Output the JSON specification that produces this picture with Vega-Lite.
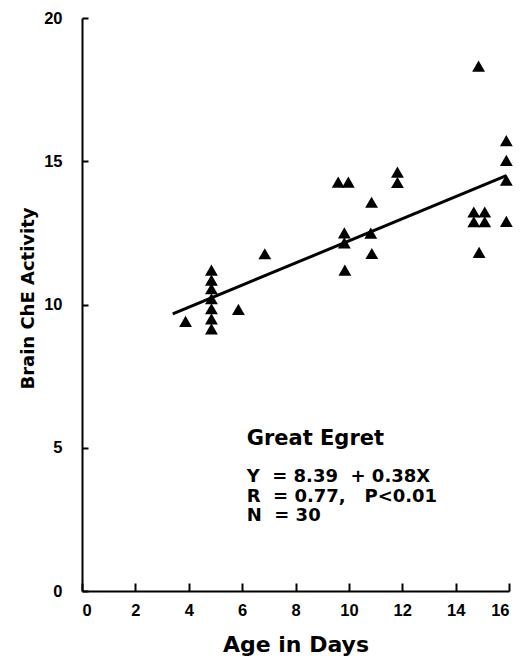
{
  "$schema": "https://vega.github.io/schema/vega-lite/v6.json",
  "width": 427,
  "height": 573,
  "autosize": "none",
  "padding": {"left": 82, "top": 18, "right": 15, "bottom": 73},
  "background": "white",
  "config": {
    "view": {"stroke": null},
    "axis": {
      "grid": false,
      "domainColor": "black",
      "domainWidth": 2,
      "tickColor": "black",
      "tickWidth": 2,
      "labelColor": "black",
      "labelFont": "Liberation Sans",
      "labelFontWeight": 700,
      "labelFontSize": 16.5,
      "titleColor": "black",
      "titleFont": "DejaVu Sans",
      "titleFontWeight": "bold"
    }
  },
  "datasets": {
    "egret": [
      {"age": 3.88, "che": 9.41},
      {"age": 4.85, "che": 11.2},
      {"age": 4.85, "che": 10.85},
      {"age": 4.85, "che": 10.55},
      {"age": 4.85, "che": 10.2},
      {"age": 4.85, "che": 9.85},
      {"age": 4.85, "che": 9.5},
      {"age": 4.85, "che": 9.15},
      {"age": 5.86, "che": 9.83},
      {"age": 6.85, "che": 11.77},
      {"age": 9.6, "che": 14.27},
      {"age": 9.98, "che": 14.27},
      {"age": 9.83, "che": 12.5},
      {"age": 9.83, "che": 12.15},
      {"age": 9.85, "che": 11.2},
      {"age": 10.85, "che": 13.57},
      {"age": 10.82, "che": 12.49},
      {"age": 10.86, "che": 11.78},
      {"age": 11.82, "che": 14.62},
      {"age": 11.82, "che": 14.26},
      {"age": 14.86, "che": 18.32},
      {"age": 14.68, "che": 13.23},
      {"age": 15.09, "che": 13.23},
      {"age": 14.68, "che": 12.89},
      {"age": 15.09, "che": 12.89},
      {"age": 14.88, "che": 11.82},
      {"age": 15.9, "che": 15.72},
      {"age": 15.9, "che": 15.03},
      {"age": 15.9, "che": 14.34},
      {"age": 15.9, "che": 12.9}
    ],
    "fit": [
      {"age": 3.4, "che": 9.67},
      {"age": 15.9, "che": 14.5}
    ],
    "notes": [
      {"species": "Great Egret", "stats": ["Y\u00a0\u00a0= 8.39\u00a0\u00a0+ 0.38X", "R\u00a0\u00a0= 0.77,\u00a0\u00a0\u00a0P<0.01", "N\u00a0\u00a0= 30"]}
    ]
  },
  "layer": [
    {
      "data": {"name": "fit"},
      "mark": {"type": "line", "color": "black", "strokeWidth": 3},
      "encoding": {
        "x": {
          "field": "age",
          "type": "quantitative",
          "scale": {"domain": [0, 16], "nice": false},
          "axis": {
            "values": [0, 2, 4, 6, 8, 10, 12, 14, 16],
            "tickSize": -8,
            "labelPadding": 19,
            "title": "Age in Days",
            "titleFontSize": 22,
            "titlePadding": 16
          }
        },
        "y": {
          "field": "che",
          "type": "quantitative",
          "scale": {"domain": [0, 20], "nice": false},
          "axis": {
            "values": [0, 5, 10, 15, 20],
            "tickSize": -6,
            "labelPadding": 26,
            "title": "Brain ChE Activity",
            "titleFontSize": 18,
            "titlePadding": 6,
            "titleY": 280
          }
        }
      }
    },
    {
      "data": {"name": "egret"},
      "mark": {"type": "point", "shape": "triangle-up", "filled": true, "color": "black", "opacity": 1, "size": 165},
      "encoding": {
        "x": {"field": "age", "type": "quantitative"},
        "y": {"field": "che", "type": "quantitative"}
      }
    },
    {
      "data": {"name": "notes"},
      "mark": {"type": "text", "align": "left", "baseline": "alphabetic", "font": "DejaVu Sans", "fontWeight": "bold", "fontSize": 21, "color": "black"},
      "encoding": {
        "x": {"datum": 6.17},
        "y": {"datum": 5.08},
        "text": {"field": "species"}
      }
    },
    {
      "data": {"name": "notes"},
      "mark": {"type": "text", "align": "left", "baseline": "alphabetic", "font": "DejaVu Sans", "fontWeight": "bold", "fontSize": 18, "lineHeight": 19.5, "color": "black"},
      "encoding": {
        "x": {"datum": 6.17},
        "y": {"datum": 3.8},
        "text": {"field": "stats"}
      }
    }
  ]
}
